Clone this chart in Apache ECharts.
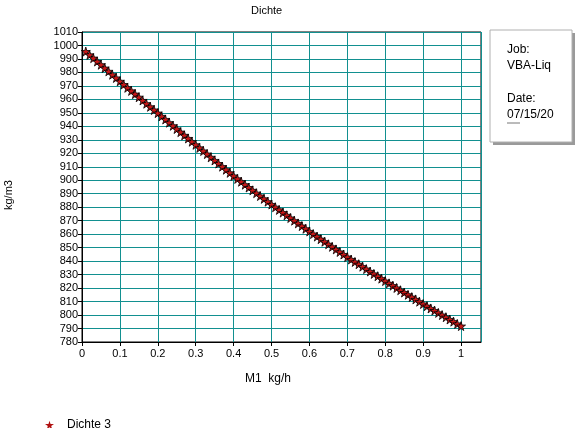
<!DOCTYPE html>
<html>
<head>
<meta charset="utf-8">
<script src="https://cdn.jsdelivr.net/npm/echarts@6/dist/echarts.min.js"></script>
<style>
  html, body { margin: 0; padding: 0; background: #fff; }
  #main { width: 575px; height: 428px; }
</style>
</head>
<body>
<div id="main"></div>
<script type="text/javascript">
    // Massenstrom M1 (kg/h)
    var m1 = [
        0.01, 0.02, 0.03, 0.04, 0.05, 0.06, 0.07, 0.08, 0.09, 0.10,
        0.11, 0.12, 0.13, 0.14, 0.15, 0.16, 0.17, 0.18, 0.19, 0.20,
        0.21, 0.22, 0.23, 0.24, 0.25, 0.26, 0.27, 0.28, 0.29, 0.30,
        0.31, 0.32, 0.33, 0.34, 0.35, 0.36, 0.37, 0.38, 0.39, 0.40,
        0.41, 0.42, 0.43, 0.44, 0.45, 0.46, 0.47, 0.48, 0.49, 0.50,
        0.51, 0.52, 0.53, 0.54, 0.55, 0.56, 0.57, 0.58, 0.59, 0.60,
        0.61, 0.62, 0.63, 0.64, 0.65, 0.66, 0.67, 0.68, 0.69, 0.70,
        0.71, 0.72, 0.73, 0.74, 0.75, 0.76, 0.77, 0.78, 0.79, 0.80,
        0.81, 0.82, 0.83, 0.84, 0.85, 0.86, 0.87, 0.88, 0.89, 0.90,
        0.91, 0.92, 0.93, 0.94, 0.95, 0.96, 0.97, 0.98, 0.99, 1.00
    ];
    // Dichte 3 (kg/m3)
    var dichte3 = [
        995.5, 993.0, 990.6, 988.1, 985.7, 983.2, 980.8, 978.3, 975.9, 973.4,
        971.0, 968.6, 966.3, 963.9, 961.6, 959.2, 956.8, 954.5, 952.1, 949.8,
        947.4, 945.1, 942.7, 940.4, 938.0, 935.7, 933.3, 931.0, 928.6, 926.3,
        924.0, 921.7, 919.4, 917.0, 914.7, 912.4, 910.1, 907.8, 905.5, 903.2,
        901.0, 898.9, 896.7, 894.6, 892.5, 890.4, 888.3, 886.2, 884.1, 882.0,
        880.0, 878.0, 876.0, 874.0, 872.0, 870.0, 868.0, 866.0, 864.0, 862.0,
        860.1, 858.2, 856.3, 854.4, 852.5, 850.6, 848.7, 846.8, 844.9, 843.0,
        841.2, 839.4, 837.7, 835.9, 834.1, 832.3, 830.5, 828.8, 827.0, 825.2,
        823.5, 821.8, 820.1, 818.4, 816.7, 815.0, 813.3, 811.6, 809.9, 808.2,
        806.6, 804.9, 803.3, 801.6, 800.0, 798.4, 796.7, 795.1, 793.4, 791.8
    ];
    var seriesName = 'Dichte 3';
    var titleText = 'Dichte';
    var xName = 'M1  kg/h';
    var yName = 'kg/m3';
    var infoJob = 'VBA-Liquid';
    var infoDate = '07/15/2005';

    var font = 'Arial, "Liberation Sans", sans-serif';
    var star = 'path://M50,0 L61,35 L98,35 L68,57 L79,91 L50,70 L21,91 L32,57 L2,35 L39,35 Z';

    var pts = [];
    for (var i = 0; i < m1.length; i++) {
        pts.push([m1[i], dichte3[i]]);
    }

    var myChart = echarts.init(document.getElementById('main'));
    var option = {
        animation: false,
        backgroundColor: '#fff',
        title: {
            text: titleText,
            left: 246,
            top: 0,
            textStyle: {fontFamily: font, fontSize: 11, fontWeight: 'normal', color: '#000'}
        },
        legend: {
            left: 40,
            top: 414,
            itemWidth: 9,
            itemHeight: 9,
            itemGap: 10,
            textStyle: {fontFamily: font, fontSize: 12, color: '#000', padding: [0, 0, 0, 8]},
            data: [{name: seriesName, icon: star, itemStyle: {color: '#b01010', borderWidth: 0}}]
        },
        grid: {
            left: 82,
            top: 32,
            right: 94,
            bottom: 86,
            show: true,
            borderColor: '#000',
            borderWidth: 1,
            outerBoundsMode: 'none'
        },
        xAxis: {
            type: 'value',
            min: 0,
            max: 1.0526,
            interval: 0.1,
            axisLine: {onZero: false, lineStyle: {color: '#000', width: 1}},
            axisTick: {show: true, length: 4, lineStyle: {color: '#000'}},
            axisLabel: {
                margin: 6,
                fontFamily: font, fontSize: 11, color: '#000',
                showMaxLabel: false,
                formatter: function (v) {
                    if (v > 1.001) return '';
                    return String(Math.round(v * 10) / 10);
                }
            },
            splitLine: {show: true, lineStyle: {color: '#129090', width: 1}}
        },
        yAxis: {
            type: 'value',
            min: 780,
            max: 1010,
            interval: 10,
            axisLine: {show: true, lineStyle: {color: '#000', width: 1}},
            axisTick: {show: true, length: 4, lineStyle: {color: '#000'}},
            axisLabel: {
                margin: 4, fontFamily: font, fontSize: 11, color: '#000',
                formatter: function (v) { return String(v); }
            },
            splitLine: {show: true, lineStyle: {color: '#129090', width: 1}}
        },
        graphic: [
            {
                type: 'text', left: 245, top: 373,
                style: {text: xName, font: '12px ' + font, fill: '#000'}
            },
            {
                type: 'text', x: 3, y: 210, rotation: Math.PI / 2,
                style: {text: yName, font: '11px ' + font, fill: '#000'}
            },
            // Infobox rechts oben
            {
                type: 'rect', shape: {x: 493, y: 33, width: 82, height: 112},
                style: {fill: '#9a9a9a'}
            },
            {
                type: 'rect', shape: {x: 490, y: 30, width: 82, height: 112},
                style: {fill: '#fff', stroke: '#b0b0b0', lineWidth: 1}
            },
            {
                type: 'text', x: 507, y: 44,
                style: {text: 'Job:', font: '12px ' + font, fill: '#000'}
            },
            {
                type: 'text', x: 507, y: 60,
                style: {text: infoJob, font: '12px ' + font, fill: '#000', width: 51, overflow: 'truncate', ellipsis: ''}
            },
            {
                type: 'text', x: 507, y: 93,
                style: {text: 'Date:', font: '12px ' + font, fill: '#000'}
            },
            {
                type: 'text', x: 507, y: 109,
                style: {text: infoDate, font: '12px ' + font, fill: '#000', width: 51, overflow: 'truncate', ellipsis: ''}
            },
            {
                type: 'line', shape: {x1: 507, y1: 123, x2: 520, y2: 123},
                style: {stroke: '#777', lineWidth: 1}
            }
        ],
        series: [
            {
                name: seriesName,
                type: 'line',
                data: pts,
                symbol: star,
                symbolSize: 9,
                showAllSymbol: true,
                lineStyle: {color: '#000', width: 1.5},
                itemStyle: {color: '#c81818', borderColor: '#000', borderWidth: 0.8}
            }
        ]
    };
    myChart.setOption(option);
</script>
</body>
</html>
